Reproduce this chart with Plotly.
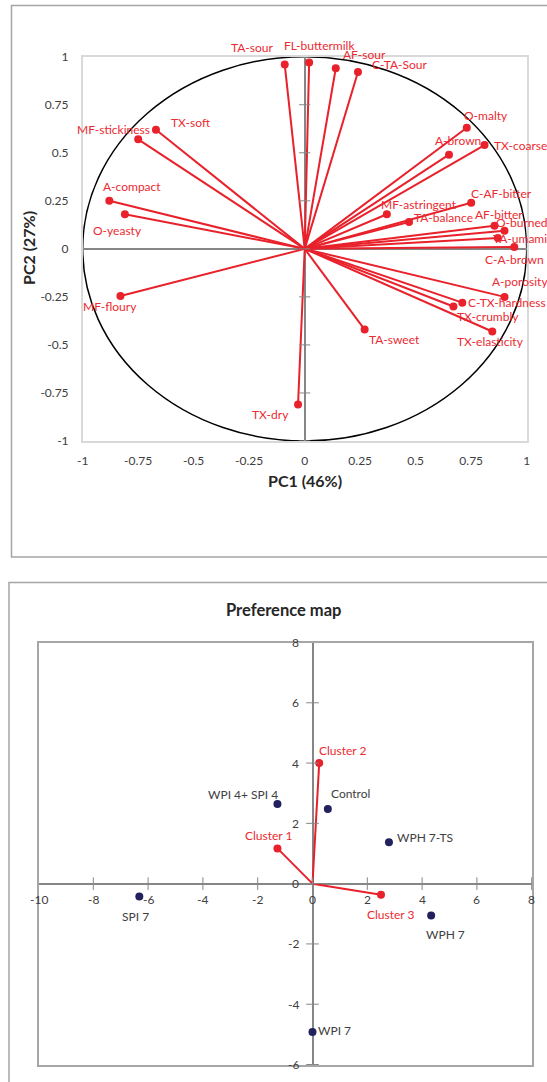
import plotly.graph_objects as go

# ---------------- data: PCA loadings ----------------
attributes = ["TA-sour", "FL-buttermilk", "AF-sour", "C-TA-Sour", "O-malty", "A-brown",
              "TX-coarse", "C-AF-bitter", "MF-astringent", "TA-balance", "AF-bitter",
              "O-burned", "TA-umami", "C-A-brown", "A-porosity", "C-TX-hardness",
              "TX-crumbly", "TX-elasticity", "TA-sweet", "TX-dry", "MF-floury",
              "O-yeasty", "A-compact", "MF-stickiness", "TX-soft"]
pc1 = [-0.09, 0.02, 0.14, 0.24, 0.73, 0.65, 0.81, 0.75, 0.37, 0.47, 0.855, 0.90, 0.87,
       0.944, 0.90, 0.71, 0.67, 0.845, 0.27, -0.03, -0.83, -0.81, -0.88, -0.75, -0.67]
pc2 = [0.96, 0.97, 0.94, 0.92, 0.63, 0.49, 0.54, 0.24, 0.18, 0.14, 0.12, 0.094, 0.057,
       0.01, -0.25, -0.28, -0.30, -0.43, -0.42, -0.81, -0.245, 0.18, 0.25, 0.57, 0.62]

# ---------------- data: preference map ----------------
products = ["WPI 4+ SPI 4", "Control", "WPH 7-TS", "SPI 7", "WPH 7", "WPI 7"]
prod_x = [-1.28, 0.56, 2.79, -6.32, 4.33, 0.0]
prod_y = [2.64, 2.48, 1.37, -0.43, -1.06, -4.92]
clusters = ["Cluster 1", "Cluster 2", "Cluster 3"]
clus_x = [-1.28, 0.245, 2.50]
clus_y = [1.17, 4.0, -0.37]

pc_ticks = [-1, -0.75, -0.5, -0.25, 0, 0.25, 0.5, 0.75, 1]
pc_ticktext = ["-1", "-0.75", "-0.5", "-0.25", "0", "0.25", "0.5", "0.75", "1"]
pm_xticks = [-10, -8, -6, -4, -2, 0, 2, 4, 6, 8]
pm_yticks = [-6, -4, -2, 0, 2, 4, 6, 8]

# ---------------- layout / styles ----------------
W, H = 547, 1082
RED = "#e8212b"
LABEL_RED = "#ec2a32"
NAVY = "#23205e"
TXT = "#404040"
AXIS_GRAY = "#868686"
FONT = "Lato"

def px_x(p):
    return p / W

def px_y(p):
    return 1 - p / H

# label offsets (pixels, screen coords: dx right, dy down)
attr_offsets = {
    "TA-sour": (-32, -17), "FL-buttermilk": (10, -17), "AF-sour": (29, -14),
    "C-TA-Sour": (42, -8), "O-malty": (19, -12), "A-brown": (9, -14),
    "TX-coarse": (36, 0), "C-AF-bitter": (30, -9), "MF-astringent": (32, -10),
    "TA-balance": (34, -4), "AF-bitter": (4, -11), "O-burned": (17, -8),
    "TA-umami": (22, 1), "C-A-brown": (0, 13), "A-porosity": (15, -15),
    "C-TX-hardness": (45, 0), "TX-crumbly": (35, 10), "TX-elasticity": (-2, 10),
    "TA-sweet": (30, 10), "TX-dry": (-28, 10), "MF-floury": (-10, 11),
    "O-yeasty": (-7, 16), "A-compact": (23, -14), "MF-stickiness": (-25, -10),
    "TX-soft": (35, -7),
}
prod_offsets = {
    "WPI 4+ SPI 4": (-34, -10), "Control": (23, -15), "WPH 7-TS": (36, -5),
    "SPI 7": (-4, 20), "WPH 7": (14, 19), "WPI 7": (22, -1),
}
clus_offsets = {"Cluster 1": (-8, -13), "Cluster 2": (24, -13), "Cluster 3": (10, 20)}

fig = go.Figure()

# loading vectors (origin -> point)
lx, ly = [], []
for a, b in zip(pc1, pc2):
    lx += [0, a, None]
    ly += [0, b, None]
fig.add_trace(go.Scatter(x=lx, y=ly, mode="lines", line=dict(color=RED, width=2),
                         xaxis="x", yaxis="y", hoverinfo="skip", showlegend=False))
fig.add_trace(go.Scatter(x=pc1, y=pc2, mode="markers", text=attributes,
                         marker=dict(color=RED, size=8), xaxis="x", yaxis="y",
                         showlegend=False, cliponaxis=False))
# tick marks on the vertical zero axis
fig.add_trace(go.Scatter(x=[0] * len(pc_ticks), y=pc_ticks, mode="markers",
                         marker=dict(symbol="line-ew-open", size=8, color=AXIS_GRAY,
                                     line=dict(color=AXIS_GRAY, width=1)),
                         xaxis="x", yaxis="y", hoverinfo="skip", showlegend=False,
                         cliponaxis=False))

# preference map: cluster vectors
cx, cy = [], []
for a, b in zip(clus_x, clus_y):
    cx += [0, a, None]
    cy += [0, b, None]
fig.add_trace(go.Scatter(x=cx, y=cy, mode="lines", line=dict(color=RED, width=2),
                         xaxis="x2", yaxis="y2", hoverinfo="skip", showlegend=False))
fig.add_trace(go.Scatter(x=clus_x, y=clus_y, mode="markers", text=clusters,
                         marker=dict(color=RED, size=8), xaxis="x2", yaxis="y2",
                         showlegend=False, cliponaxis=False))
# tick marks on the zero axes
fig.add_trace(go.Scatter(x=pm_xticks, y=[0] * len(pm_xticks), mode="markers",
                         marker=dict(symbol="line-ns-open", size=9, color=AXIS_GRAY,
                                     line=dict(color=AXIS_GRAY, width=1)),
                         xaxis="x2", yaxis="y2", hoverinfo="skip", showlegend=False,
                         cliponaxis=False))
fig.add_trace(go.Scatter(x=[0] * len(pm_yticks), y=pm_yticks, mode="markers",
                         marker=dict(symbol="line-ew-open", size=9, color=AXIS_GRAY,
                                     line=dict(color=AXIS_GRAY, width=1)),
                         xaxis="x2", yaxis="y2", hoverinfo="skip", showlegend=False,
                         cliponaxis=False))
fig.add_trace(go.Scatter(x=prod_x, y=prod_y, mode="markers", text=products,
                         marker=dict(color=NAVY, size=8), xaxis="x2", yaxis="y2",
                         showlegend=False, cliponaxis=False))

ann = []
for name, a, b in zip(attributes, pc1, pc2):
    dx, dy = attr_offsets[name]
    ann.append(dict(x=a, y=b, xref="x", yref="y", text=name, showarrow=False,
                    xshift=dx, yshift=-dy, xanchor="center", yanchor="middle",
                    font=dict(family=FONT, size=12, color=LABEL_RED)))
for name, a, b in zip(products, prod_x, prod_y):
    dx, dy = prod_offsets[name]
    ann.append(dict(x=a, y=b, xref="x2", yref="y2", text=name, showarrow=False,
                    xshift=dx, yshift=-dy, xanchor="center", yanchor="middle",
                    font=dict(family=FONT, size=12, color=TXT)))
for name, a, b in zip(clusters, clus_x, clus_y):
    dx, dy = clus_offsets[name]
    ann.append(dict(x=a, y=b, xref="x2", yref="y2", text=name, showarrow=False,
                    xshift=dx, yshift=-dy, xanchor="center", yanchor="middle",
                    font=dict(family=FONT, size=12, color=LABEL_RED)))
# preference-map tick labels sit next to the zero axes
for v in pm_xticks:
    ann.append(dict(x=v, y=0, xref="x2", yref="y2", text=str(v), showarrow=False,
                    yshift=-16, xanchor="center", yanchor="middle",
                    font=dict(family=FONT, size=12, color=TXT)))
for v in pm_yticks:
    ann.append(dict(x=0, y=v, xref="x2", yref="y2", text=str(v), showarrow=False,
                    xshift=-12, xanchor="right", yanchor="middle",
                    font=dict(family=FONT, size=12, color=TXT)))
# titles
ann.append(dict(x=px_x(305), y=px_y(481), xref="paper", yref="paper", text="<b>PC1 (46%)</b>",
                showarrow=False, xanchor="center", yanchor="middle",
                font=dict(family=FONT, size=16, color="#262626")))
ann.append(dict(x=px_x(28), y=px_y(248), xref="paper", yref="paper", text="<b>PC2 (27%)</b>",
                showarrow=False, xanchor="center", yanchor="middle", textangle=-90,
                font=dict(family=FONT, size=16, color="#262626")))
ann.append(dict(x=px_x(283), y=px_y(610), xref="paper", yref="paper", text="<b>Preference map</b>",
                showarrow=False, xanchor="center", yanchor="middle",
                font=dict(family=FONT, size=16.5, color="#262626")))

shapes = [
    # outer chart frames
    dict(type="rect", xref="paper", yref="paper", x0=px_x(11.5), x1=px_x(600),
         y0=px_y(557), y1=px_y(5.5), line=dict(color="#a5a5a5", width=1.5)),
    dict(type="rect", xref="paper", yref="paper", x0=px_x(9), x1=px_x(600),
         y0=px_y(1130), y1=px_y(582.5), line=dict(color="#a5a5a5", width=1.5)),
    # correlation circle
    dict(type="circle", xref="x", yref="y", x0=-1, y0=-1, x1=1, y1=1,
         line=dict(color="black", width=1.5), layer="below"),
]

fig.update_layout(
    width=W, height=H, margin=dict(l=0, r=0, t=0, b=0, autoexpand=False),
    paper_bgcolor="white", plot_bgcolor="white", showlegend=False,
    font=dict(family=FONT, size=12, color=TXT),
    annotations=ann, shapes=shapes,
    xaxis=dict(domain=[px_x(82.7), px_x(526.7)], anchor="y", range=[-1, 1],
               tickvals=pc_ticks, ticktext=pc_ticktext, showgrid=False, automargin=False,
               zeroline=True, zerolinecolor=AXIS_GRAY, zerolinewidth=2,
               showline=True, mirror=True, linecolor="#d9d9d9", linewidth=1.5,
               ticks="", ticklabelstandoff=8, tickfont=dict(size=12, color=TXT)),
    yaxis=dict(domain=[px_y(441), px_y(56.7)], anchor="x", range=[-1, 1],
               tickvals=pc_ticks, ticktext=pc_ticktext, showgrid=False, automargin=False,
               zeroline=True, zerolinecolor=AXIS_GRAY, zerolinewidth=2,
               showline=True, mirror=True, linecolor="#d9d9d9", linewidth=1.5,
               ticks="", ticklabelstandoff=10, tickfont=dict(size=12, color=TXT)),
    xaxis2=dict(domain=[px_x(38.5), px_x(531.7)], anchor="y2", range=[-10, 8],
                showticklabels=False, showgrid=False, ticks="", automargin=False,
                zeroline=True, zerolinecolor=AXIS_GRAY, zerolinewidth=2,
                showline=True, mirror=True, linecolor="#a6a6a6", linewidth=1.5),
    yaxis2=dict(domain=[px_y(1064.5), px_y(642.5)], anchor="x2", range=[-6, 8],
                showticklabels=False, showgrid=False, ticks="", automargin=False,
                zeroline=True, zerolinecolor=AXIS_GRAY, zerolinewidth=2,
                showline=True, mirror=True, linecolor="#a6a6a6", linewidth=1.5),
)

fig.write_html(
    "out.html",
    config={"displayModeBar": False},
    post_script="document.body.style.margin='0';document.body.style.overflow='hidden';",
)
